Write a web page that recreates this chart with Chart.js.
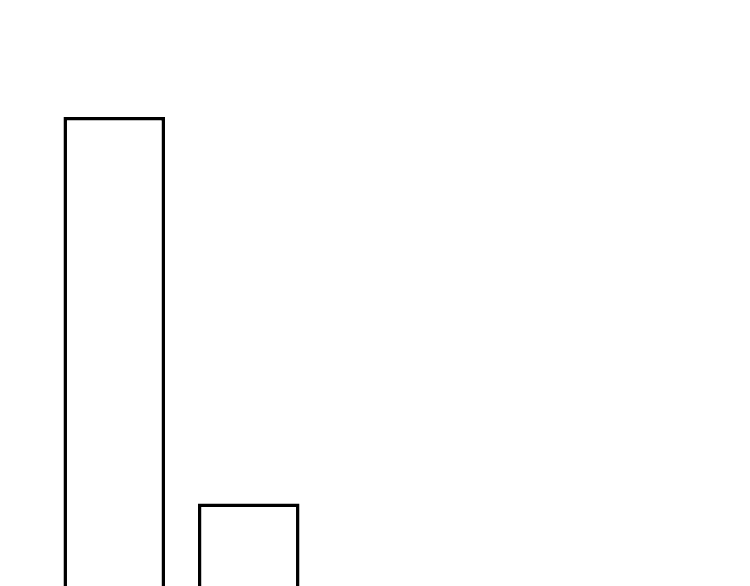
<!DOCTYPE html>
<html>
<head>
<meta charset="utf-8">
<script src="https://cdn.jsdelivr.net/npm/chart.js@4/dist/chart.umd.min.js"></script>
<style>
html, body { margin: 0; padding: 0; background: #ffffff; overflow: hidden; }
#wrap { position: relative; width: 750px; height: 1000px; }
</style>
</head>
<body>
<div id="wrap"><canvas id="c"></canvas></div>
<script>
const categories = ['1', '2'];
const values = [10, 5];

new Chart(document.getElementById('c'), {
  type: 'bar',
  data: {
    labels: categories,
    datasets: [{
      data: values,
      backgroundColor: '#ffffff',
      borderColor: '#000000',
      borderWidth: 3.5,
      borderSkipped: false,
      categoryPercentage: 1.0,
      barPercentage: 0.755
    }]
  },
  options: {
    responsive: true,
    maintainAspectRatio: false,
    animation: false,
    layout: { padding: { left: 47, right: 434, top: 117, bottom: 110 } },
    plugins: { legend: { display: false }, tooltip: { enabled: false } },
    scales: {
      x: { display: false },
      y: { display: false, min: 0, max: 10 }
    }
  }
});
</script>
</body>
</html>
